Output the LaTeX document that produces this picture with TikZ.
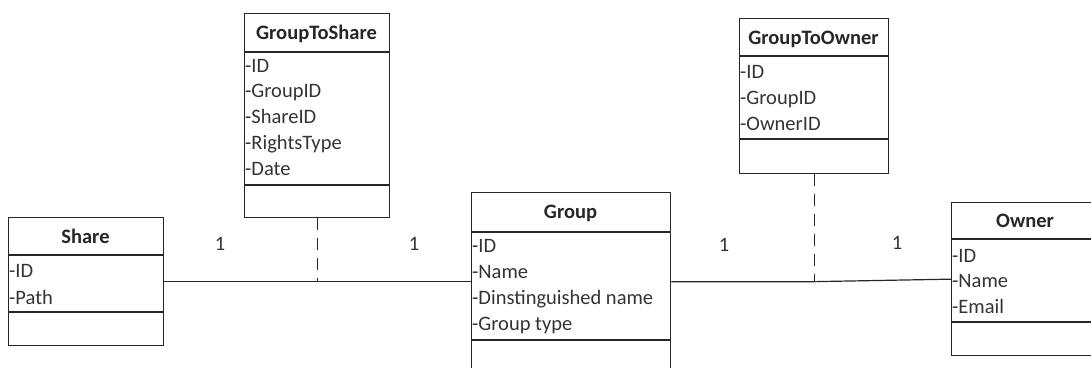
\documentclass[tikz,border=0pt]{standalone}
\usepackage{fontspec}
\setmainfont{Carlito}
\begin{document}
\begin{tikzpicture}[x=1pt,y=-1pt,
  box/.style={draw=black!85, line width=1.3pt, rectangle, inner sep=0pt, anchor=north west},
  divider/.style={draw=black!85, line width=1.3pt},
  conn/.style={draw=black!85, line width=1.2pt},
  dashconn/.style={draw=black!85, line width=1.2pt, dash pattern=on 12pt off 8pt},
  title/.style={font=\fontsize{20.5}{25}\selectfont\bfseries, text=black!85, inner sep=0pt, anchor=base},
  attr/.style={font=\fontsize{20.5}{25}\selectfont, text=black!80, inner sep=0pt, anchor=base west},
  mult/.style={font=\fontsize{20.5}{25}\selectfont, text=black!80, inner sep=0pt}
]
\useasboundingbox (0,0) rectangle (1091,367);
\clip (0,0) rectangle (1091,367);

% Share
\node[box, minimum width=155pt, minimum height=128pt] (share) at (8,217) {};
\draw[divider] (8,255) -- (163,255);
\draw[divider] (8,312) -- (163,312);
\node[title] (shareT) at (85.5,243) {Share};
\node[attr] (shareA1) at (9,277) {-ID};
\node[attr] (shareA2) at (9,304) {-Path};

% GroupToShare
\node[box, minimum width=145pt, minimum height=204pt] (gts) at (244,13) {};
\draw[divider] (244,52) -- (389,52);
\draw[divider] (244,185) -- (389,185);
\node[title] (gtsT) at (316.5,39) {GroupToShare};
\node[attr] (gtsA1) at (245,72) {-ID};
\node[attr] (gtsA2) at (245,97.8) {-GroupID};
\node[attr] (gtsA3) at (245,123.6) {-ShareID};
\node[attr] (gtsA4) at (245,149.4) {-RightsType};
\node[attr] (gtsA5) at (245,175.2) {-Date};

% Group
\node[box, minimum width=199pt, minimum height=178pt] (group) at (471,192) {};
\draw[divider] (471,232) -- (670,232);
\draw[divider] (471,340) -- (670,340);
\node[title] (groupT) at (570.5,218) {Group};
\node[attr] (groupA1) at (472,252) {-ID};
\node[attr] (groupA2) at (472,278) {-Name};
\node[attr] (groupA3) at (472,304) {-Dinstinguished name};
\node[attr] (groupA4) at (472,330) {-Group type};

% GroupToOwner
\node[box, minimum width=149pt, minimum height=155pt] (gto) at (739,18) {};
\draw[divider] (739,56) -- (888,56);
\draw[divider] (739,139) -- (888,139);
\node[title] (gtoT) at (813.5,44) {GroupToOwner};
\node[attr] (gtoA1) at (740,78) {-ID};
\node[attr] (gtoA2) at (740,104) {-GroupID};
\node[attr] (gtoA3) at (740,130) {-OwnerID};

% Owner
\node[box, minimum width=148pt, minimum height=153pt] (owner) at (951,202) {};
\draw[divider] (951,239) -- (1099,239);
\draw[divider] (951,322) -- (1099,322);
\node[title] (ownerT) at (1025,227) {Owner};
\node[attr] (ownerA1) at (952,262) {-ID};
\node[attr] (ownerA2) at (952,287) {-Name};
\node[attr] (ownerA3) at (952,313) {-Email};

% connectors
\coordinate (j1) at (gts.south |- share.east);
\coordinate (j2) at (gto.south |- group.east);
\draw[conn] (share.east) -- (j1) -- (group.west);
\draw[dashconn] (gts.south) -- (j1);
\draw[conn] (group.east) -- (j2) -- (owner.west);
\draw[dashconn] (gto.south) -- (j2);

% multiplicities
\node[mult] (m1) at (220,244) {1};
\node[mult] (m2) at (414,244) {1};
\node[mult] (m3) at (724,245) {1};
\node[mult] (m4) at (897,243) {1};
\end{tikzpicture}
\end{document}
